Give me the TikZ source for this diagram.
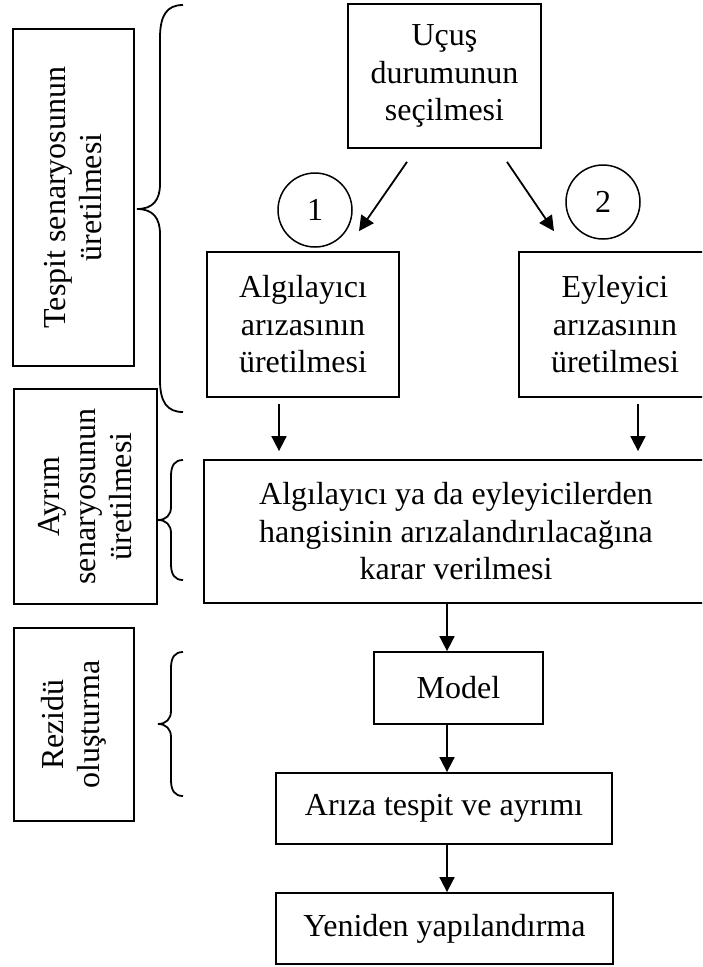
\documentclass[tikz,border=0pt]{standalone}
\usepackage{fontspec}
\setmainfont{Liberation Serif}
\usetikzlibrary{arrows.meta}

\begin{document}
\begin{tikzpicture}
 [x=1pt, y=-1pt,
  box/.style={draw, line width=1.8pt, inner sep=0pt, align=center, font=\fontsize{32}{37.5}\selectfont},
  side box/.style={box, rotate=90, font=\fontsize{32}{36}\selectfont},
  num node/.style={circle, draw, line width=1.5pt, minimum size=74pt, inner sep=0pt, font=\fontsize{32}{37.5}\selectfont},
  arr/.style={-{Triangle[length=15pt,width=15pt]}, line width=1.8pt},
  brace line/.style={line width=1.8pt}]

 \clip (0,0) rectangle (702,967);

 % main flow
 \node[box, minimum width=193pt, minimum height=144pt] (ucus) at (444.5,76) {Uçuş\\durumunun\\seçilmesi};
 \node[box, minimum width=192pt, minimum height=145pt] (algi) at (303,324.5) {Algılayıcı\\arızasının\\üretilmesi};
 \node[box, minimum width=192pt, minimum height=145pt] (eyle) at (615,324.5) {Eyleyici\\arızasının\\üretilmesi};
 \node[box, minimum width=504pt, minimum height=143pt] (karar) at (456,531.5) {Algılayıcı ya da eyleyicilerden\\hangisinin arızalandırılacağına\\karar verilmesi};
 \node[box, minimum width=169pt, minimum height=72pt] (model) at (458.5,688) {Model};
 \node[box, minimum width=336pt, minimum height=71pt] (ariza) at (444,808.5) {Arıza tespit ve ayrımı};
 \node[box, minimum width=337pt, minimum height=71pt] (yeniden) at (444.5,928.5) {Yeniden yapılandırma};

 \node[num node] (n1) at (315,210) {1};
 \node[num node] (n2) at (603,202) {2};

 % side labels
 \node[side box, minimum width=337pt, minimum height=121pt] (tespit) at (73.5,197.5) {Tespit senaryosunun\\üretilmesi};
 \node[side box, minimum width=215pt, minimum height=143pt] (ayrim) at (85.5,496.5) {Ayrım\\senaryosunun\\üretilmesi};
 \node[side box, minimum width=193pt, minimum height=120pt] (rezidu) at (74,724.5) {Rezidü\\oluşturma};

 \path
  ([xshift=-37.5pt,yshift=-13pt]ucus.south) edge[arr] ([xshift=56pt,yshift=20pt]algi.north)
  ([xshift=62.5pt,yshift=-13pt]ucus.south) edge[arr] ([xshift=-61pt,yshift=20pt]eyle.north)

  ([xshift=-24pt,yshift=-6pt]algi.south) edge[arr] ([xshift=-177pt,yshift=8pt]karar.north)
  ([xshift=23pt,yshift=-6pt]eyle.south) edge[arr] ([xshift=182pt,yshift=8pt]karar.north)

  ([xshift=-9pt]karar.south) edge[arr] ([xshift=-11.5pt]model.north)
  ([xshift=-11.5pt]model.south) edge[arr] ([xshift=3pt]ariza.north)
  ([xshift=3pt]ariza.south) edge[arr] ([xshift=2.5pt]yeniden.north);

 % braces
 \draw[brace line] (183,5) .. controls (167,5) and (160,15) .. (160,38) -- (160,184)
   .. controls (160,200) and (153,209) .. (137,209) .. controls (153,209) and (160,218) .. (160,234)
   -- (160,380) .. controls (160,402) and (167,412) .. (183,412);
 \draw[brace line] (183,460) .. controls (175,460) and (171,465) .. (171,476) -- (171,507)
   .. controls (171,515) and (166,520) .. (158,520) .. controls (166,520) and (171,525) .. (171,533)
   -- (171,564) .. controls (171,575) and (175,580) .. (183,580);
 \draw[brace line] (183,652) .. controls (175,652) and (171,657) .. (171,668) -- (171,711)
   .. controls (171,719) and (166,724) .. (158,724) .. controls (166,724) and (171,729) .. (171,737)
   -- (171,780) .. controls (171,791) and (175,796) .. (183,796);

\end{tikzpicture}
\end{document}
